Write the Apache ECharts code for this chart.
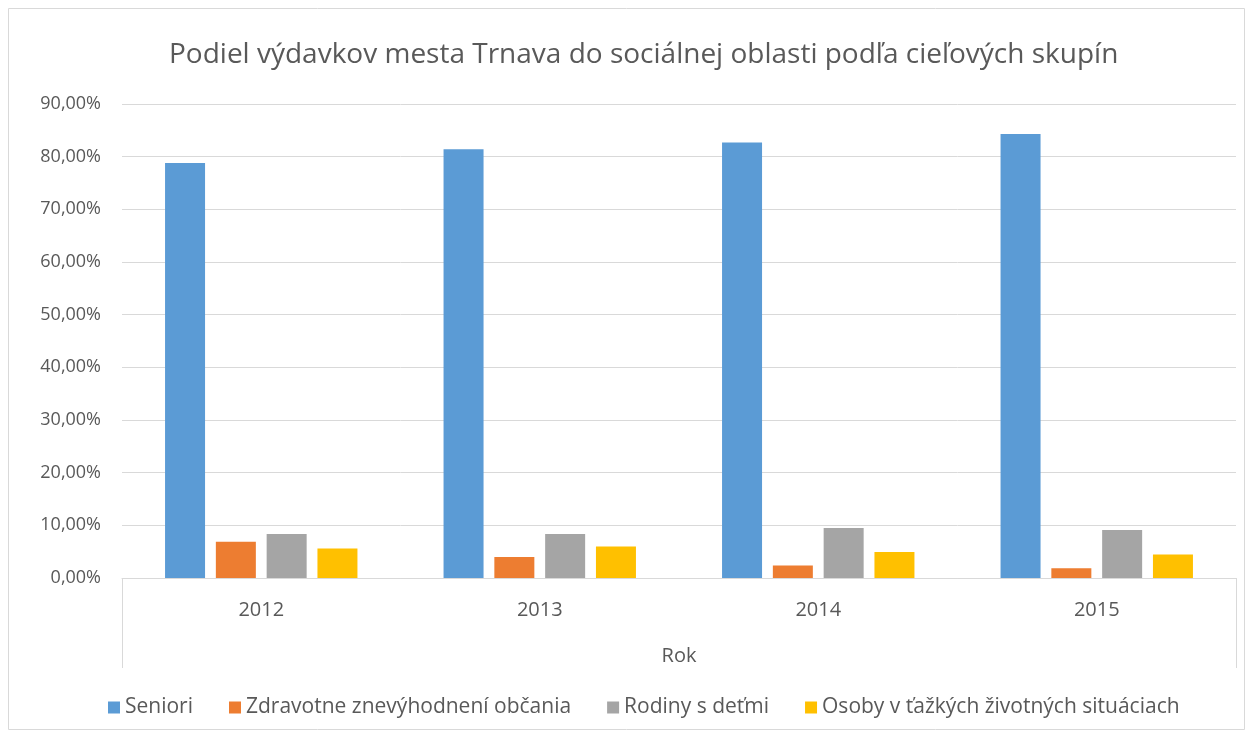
<!DOCTYPE html>
<html><head><meta charset="utf-8">
<script src="https://cdn.jsdelivr.net/npm/echarts@6/dist/echarts.min.js"></script>
<style>html,body{margin:0;padding:0;background:#fff}#c{width:1253px;height:738px}</style>
</head><body><div id="c"></div>
<script>
const categories = ['2012', '2013', '2014', '2015'];
const seniori = [78.8, 81.4, 82.7, 84.3];
const zdravotne = [6.9, 4.0, 2.35, 1.85];
const rodiny = [8.35, 8.35, 9.5, 9.1];
const osoby = [5.6, 6.0, 4.95, 4.45];
const seriesNames = ['Seniori', 'Zdravotne znevýhodnení občania', 'Rodiny s deťmi', 'Osoby v ťažkých životných situáciach'];
const colors = ['#5b9bd5', '#ed7d31', '#a5a5a5', '#ffc000'];

const font = 'Open Sans';
const chart = echarts.init(document.getElementById('c'));
const mk = (name, data, i) => ({
  name, type: 'bar', data, barWidth: 40, barGap: '27%', barCategoryGap: '31%',
  itemStyle: { color: colors[i] }, xAxisIndex: 0
});
chart.setOption({
  animation: false,
  textStyle: { fontFamily: font },
  title: {
    text: 'Podiel výdavkov mesta Trnava do sociálnej oblasti podľa cieľových skupín',
    left: 164, top: 36,
    textStyle: { fontFamily: font, fontSize: 28, fontWeight: 'normal', color: '#595959' }
  },
  graphic: [{ type: 'rect', shape: { x: 8.5, y: 8.5, width: 1236, height: 721 },
    style: { fill: 'none', stroke: '#d9d9d9', lineWidth: 1 }, silent: true }],
  legend: {
    bottom: 15, left: 103, icon: 'rect', itemWidth: 12, itemHeight: 12, itemGap: 36,
    textStyle: { fontFamily: font, fontSize: 21, color: '#595959' },
    data: seriesNames
  },
  grid: { left: 122, right: 17, top: 104, bottom: 160, containLabel: false },
  xAxis: [{
    type: 'category', data: categories,
    axisLine: { lineStyle: { color: '#d9d9d9' } },
    axisTick: { show: false },
    axisLabel: { fontFamily: font, fontSize: 20, color: '#595959', margin: 22 }
  }, {
    type: 'category', data: ['Rok'], position: 'bottom',
    axisLine: { show: false },
    axisTick: { show: true, length: 90, alignWithLabel: false, lineStyle: { color: '#d9d9d9' } },
    axisLabel: { fontFamily: font, fontSize: 20, color: '#595959', margin: 68 }
  }],
  yAxis: {
    type: 'value', min: 0, max: 90, interval: 10,
    axisLine: { show: false }, axisTick: { show: false },
    splitLine: { lineStyle: { color: '#d9d9d9' } },
    axisLabel: { fontFamily: font, fontSize: 18, color: '#595959', margin: 21,
      formatter: v => v.toFixed(2).replace('.', ',') + '%' }
  },
  series: [mk(seriesNames[0], seniori, 0), mk(seriesNames[1], zdravotne, 1),
           mk(seriesNames[2], rodiny, 2), mk(seriesNames[3], osoby, 3)]
});
</script></body></html>
